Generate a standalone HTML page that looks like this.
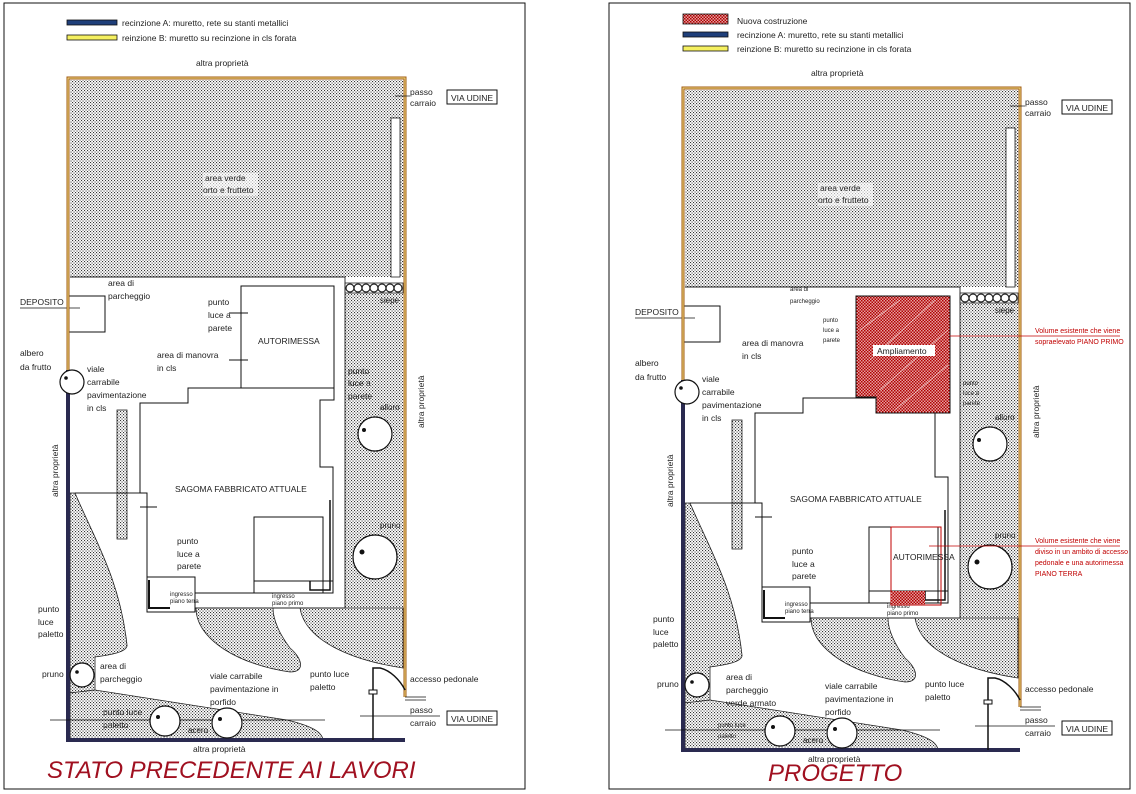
<!DOCTYPE html>
<html><head><meta charset="utf-8">
<style>
html,body{margin:0;padding:0;background:#fff}
svg{display:block}
text{font-family:"Liberation Sans",sans-serif;font-size:8.5px;fill:#222}
.s{font-size:6px}
.m{font-size:8px}
.r{fill:#c00000;font-size:7px}
</style></head><body>
<svg width="1136" height="794" viewBox="0 0 1136 794" xmlns="http://www.w3.org/2000/svg">
<defs>
<pattern id="dot" width="3" height="3" patternUnits="userSpaceOnUse">
<rect width="3" height="3" fill="#fff"/>
<rect x="0" y="0" width="1.1" height="1.1" fill="#333"/>
<rect x="1.5" y="1.5" width="1.1" height="1.1" fill="#333"/>
</pattern>
<pattern id="red" width="3" height="3" patternUnits="userSpaceOnUse">
<rect width="3" height="3" fill="#e4a0a0"/>
<rect x="0" y="0" width="1.5" height="1.5" fill="#b00000"/>
<rect x="1.5" y="1.5" width="1.5" height="1.5" fill="#b00000"/>
</pattern>
<g id="site">
 <rect x="70" y="80" width="334" height="197" fill="url(#dot)"/>
 <rect x="391" y="118" width="9" height="159" fill="#fff" stroke="#222" stroke-width="0.8"/>
 <rect x="345" y="283" width="58" height="325" fill="url(#dot)"/>
 <path d="M300,608 C305,640 350,660 403,668 L403,608 Z" fill="url(#dot)" stroke="#222" stroke-width="0.8"/>
 <path d="M196,608 C196,640 240,665 290,672 C306,672 302,658 290,648 C280,635 273,620 273,608 Z" fill="url(#dot)" stroke="#222" stroke-width="0.8"/>
 <path d="M70,493 L75,493 C95,540 120,580 127,645 C128,652 110,655 95,657 L95,690 L70,693 Z" fill="url(#dot)" stroke="#222" stroke-width="0.8"/>
 <path d="M70,693 L95,690 L287,720 C312,726 322,732 323,740 L70,740 Z" fill="url(#dot)" stroke="#222" stroke-width="0.8"/>
 <rect x="117" y="410" width="10" height="129" fill="url(#dot)" stroke="#222" stroke-width="0.8"/>
 <rect x="345" y="283" width="58" height="10" fill="#fff" stroke="#222" stroke-width="0.8"/>
 <g fill="none" stroke="#222" stroke-width="1.2">
  <circle cx="350" cy="288" r="4"/><circle cx="358" cy="288" r="4"/><circle cx="366" cy="288" r="4"/><circle cx="374" cy="288" r="4"/><circle cx="382" cy="288" r="4"/><circle cx="390" cy="288" r="4"/><circle cx="398" cy="288" r="4"/>
 </g>
 <path d="M70,277 L345,277 L345,608 L195,608" fill="none" stroke="#222" stroke-width="0.9"/>
 <path d="M75,493 L147,493" fill="none" stroke="#222" stroke-width="0.9"/>
 <path d="M140,403 L188,403 L188,388 L334,388 L334,400 L320,400 L320,467 L333,467 L333,593 L195,593 L195,577 L147,577 L147,493 L140,493 Z" fill="#fff" stroke="#111" stroke-width="1"/>
 <rect x="147" y="577" width="48" height="35" fill="#fff" stroke="#111" stroke-width="1"/>
 <path d="M149,580 L149,608 L170,608" fill="none" stroke="#111" stroke-width="2"/>
 <line x1="140" y1="507" x2="157" y2="507" stroke="#111"/>
 <rect x="254" y="517" width="69" height="76" fill="none" stroke="#111"/>
 <line x1="254" y1="581" x2="333" y2="581" stroke="#111"/>
 <path d="M310,581 L310,590 L330,590 L330,500" fill="none" stroke="#111" stroke-width="1.5"/>
 <rect x="68" y="296" width="37" height="36" fill="#fff" stroke="#111"/>
 <line x1="20" y1="308" x2="80" y2="308" stroke="#111" stroke-width="0.8"/>
 <path d="M68,370 L68,78 L405,78 L405,697" fill="none" stroke="#a05a10" stroke-width="3"/>
 <path d="M68,370 L68,78 L405,78 L405,697" fill="none" stroke="#f5e08a" stroke-width="1"/>
 <path d="M68,370 L68,740 L405,740" fill="none" stroke="#2a2a50" stroke-width="4"/>
 <path d="M373,740 L373,668 L380,668 C390,670 400,680 405,690" fill="none" stroke="#111" stroke-width="1.5"/>
 <rect x="369" y="690" width="8" height="4" fill="#fff" stroke="#111"/>
 <path d="M405,700 L426,700 M405,697 L426,697" stroke="#111" stroke-width="0.8"/>
 <line x1="360" y1="716" x2="440" y2="716" stroke="#111" stroke-width="0.7"/>
 <line x1="395" y1="96" x2="410" y2="96" stroke="#111" stroke-width="0.7"/>
 <line x1="50" y1="720" x2="325" y2="720" stroke="#111" stroke-width="0.7"/>
 <g fill="#fff" stroke="#111" stroke-width="1.2">
  <circle cx="72" cy="382" r="12"/>
  <circle cx="375" cy="434" r="17"/>
  <circle cx="375" cy="557" r="22"/>
  <circle cx="82" cy="675" r="12"/>
  <circle cx="165" cy="721" r="15"/>
  <circle cx="227" cy="723" r="15"/>
 </g>
 <g fill="#111">
  <circle cx="66" cy="378" r="1.8"/><circle cx="364" cy="430" r="2"/><circle cx="362" cy="552" r="2.5"/><circle cx="77" cy="672" r="1.8"/><circle cx="158" cy="717" r="2"/><circle cx="220" cy="719" r="2"/>
 </g>
 <text x="196" y="66">altra proprietà</text>
 <text x="410" y="95">passo</text><text x="410" y="106">carraio</text>
 <rect x="447" y="90" width="50" height="14" fill="#fff" stroke="#111"/><text x="451" y="101">VIA UDINE</text>
 <rect x="203" y="173" width="55" height="23" fill="#fff" opacity="0.6"/>
 <text x="205" y="181">area verde</text><text x="203" y="193">orto e frutteto</text>
 <text x="20" y="305">DEPOSITO</text>
 <text x="20" y="356">albero</text><text x="20" y="370">da frutto</text>
 <text x="87" y="372">viale</text><text x="87" y="385">carrabile</text><text x="87" y="398">pavimentazione</text><text x="87" y="411">in cls</text>
 <text x="380" y="303" class="m">siepe</text>
 <text x="380" y="410" class="m">alloro</text>
 <text x="0" y="0" transform="translate(424,428) rotate(-90)">altra proprietà</text>
 <text x="0" y="0" transform="translate(58,497) rotate(-90)">altra proprietà</text>
 <text x="175" y="492">SAGOMA FABBRICATO ATTUALE</text>
 <text x="177" y="544">punto</text><text x="177" y="557">luce a</text><text x="177" y="569">parete</text>
 <text x="380" y="528" class="m">pruno</text>
 <text x="170" y="596" class="s">ingresso</text><text x="170" y="603" class="s">piano terra</text>
 <text x="272" y="598" class="s">ingresso</text><text x="272" y="605" class="s">piano primo</text>
 <text x="38" y="612">punto</text><text x="38" y="625">luce</text><text x="38" y="637">paletto</text>
 <text x="42" y="677">pruno</text>
 <text x="210" y="679">viale carrabile</text><text x="210" y="692">pavimentazione in</text><text x="210" y="705">porfido</text>
 <text x="310" y="677">punto luce</text><text x="310" y="690">paletto</text>
 <text x="410" y="682">accesso pedonale</text>
 <text x="188" y="733" class="m">acero</text>
 <text x="410" y="713">passo</text><text x="410" y="726">carraio</text>
 <rect x="447" y="711" width="50" height="14" fill="#fff" stroke="#111"/><text x="451" y="722">VIA UDINE</text>
 <text x="193" y="752">altra proprietà</text>
</g>
</defs>

<rect x="4" y="3" width="521" height="786" fill="none" stroke="#111" stroke-width="1"/>
<rect x="609" y="3" width="521" height="786" fill="none" stroke="#111" stroke-width="1"/>

<rect x="67" y="20" width="50" height="5" fill="#1f3f7a" stroke="#111" stroke-width="0.8"/>
<text x="122" y="26">recinzione A: muretto, rete su stanti metallici</text>
<rect x="67" y="35" width="50" height="5" fill="#f5f060" stroke="#111" stroke-width="0.8"/>
<text x="122" y="41">reinzione B: muretto su recinzione in cls forata</text>
<use href="#site"/>
<rect x="241" y="286" width="93" height="102" fill="#fff" stroke="#111"/>
<text x="258" y="344">AUTORIMESSA</text>
<line x1="229" y1="313" x2="248" y2="313" stroke="#111"/>
<line x1="229" y1="360" x2="248" y2="360" stroke="#111"/>
<text x="108" y="286">area di</text><text x="108" y="299">parcheggio</text>
<text x="208" y="305">punto</text><text x="208" y="318">luce a</text><text x="208" y="331">parete</text>
<text x="157" y="358">area di manovra</text><text x="157" y="371">in cls</text>
<text x="348" y="374">punto</text><text x="348" y="386">luce a</text><text x="348" y="399">parete</text>
<text x="100" y="669">area di</text><text x="100" y="682">parcheggio</text>
<text x="103" y="715">punto luce</text><text x="103" y="728">paletto</text>
<text x="47" y="778" style="font-size:24px;font-style:italic;fill:#a01020">STATO PRECEDENTE AI LAVORI</text>

<rect x="683" y="14" width="45" height="10" fill="url(#red)" stroke="#111" stroke-width="0.8"/>
<text x="737" y="24">Nuova costruzione</text>
<rect x="683" y="32" width="45" height="5" fill="#1f3f7a" stroke="#111" stroke-width="0.8"/>
<text x="737" y="38">recinzione A: muretto, rete su stanti metallici</text>
<rect x="683" y="46" width="45" height="5" fill="#f5f060" stroke="#111" stroke-width="0.8"/>
<text x="737" y="52">reinzione B: muretto su recinzione in cls forata</text>
<g transform="translate(615,10)"><use href="#site"/></g>
<path d="M856,296 L950,296 L950,413 L876,413 L876,397 L856,397 Z" fill="url(#red)" stroke="#111"/>
<g stroke="#fff" stroke-width="0.8" opacity="0.6" fill="none">
 <path d="M860,330 L900,300 M870,360 L935,300 M880,390 L948,330 M895,410 L948,365"/>
</g>
<rect x="873" y="345" width="62" height="11" fill="#fff"/>
<text x="877" y="354">Ampliamento</text>
<rect x="891" y="527" width="50" height="78" fill="none" stroke="#c00000"/>
<rect x="891" y="591" width="34" height="14" fill="url(#red)"/>
<text x="893" y="560">AUTORIMESSA</text>
<line x1="950" y1="336" x2="1120" y2="336" stroke="#c00000" stroke-width="0.8"/>
<line x1="929" y1="546" x2="1120" y2="546" stroke="#c00000" stroke-width="0.8"/>
<text x="1035" y="333" class="r">Volume esistente che viene</text>
<text x="1035" y="344" class="r">sopraelevato PIANO PRIMO</text>
<text x="1035" y="543" class="r">Volume esistente che viene</text>
<text x="1035" y="554" class="r">diviso in un ambito di accesso</text>
<text x="1035" y="565" class="r">pedonale e una autorimessa</text>
<text x="1035" y="576" class="r">PIANO TERRA</text>
<text x="790" y="291" class="s">area di</text><text x="790" y="303" class="s">parcheggio</text>
<text x="823" y="322" class="s">punto</text><text x="823" y="332" class="s">luce a</text><text x="823" y="342" class="s">parete</text>
<text x="742" y="346">area di manovra</text><text x="742" y="359">in cls</text>
<text x="963" y="385" class="s">punto</text><text x="963" y="395" class="s">luce a</text><text x="963" y="405" class="s">parete</text>
<text x="726" y="680">area di</text><text x="726" y="693">parcheggio</text><text x="726" y="706">verde armato</text>
<text x="718" y="727" class="s">punto luce</text><text x="718" y="738" class="s">paletto</text>
<text x="768" y="781" style="font-size:24px;font-style:italic;fill:#a01020">PROGETTO</text>
</svg>
</body></html>
